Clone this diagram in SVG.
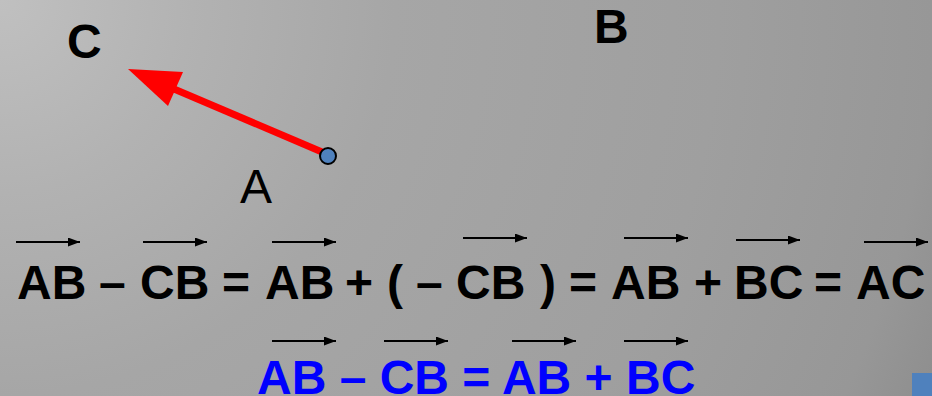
<svg xmlns="http://www.w3.org/2000/svg" width="932" height="396" viewBox="0 0 932 396">
  <defs>
    <radialGradient id="bg" gradientUnits="userSpaceOnUse" cx="0" cy="0" r="1013" fx="0" fy="0">
      <stop offset="0" stop-color="#c0c0c0"/>
      <stop offset="0.19" stop-color="#b2b2b2"/>
      <stop offset="0.39" stop-color="#a6a6a6"/>
      <stop offset="0.71" stop-color="#9f9f9f"/>
      <stop offset="0.92" stop-color="#979797"/>
      <stop offset="1" stop-color="#8e8e8e"/>
    </radialGradient>
    <marker id="vh" markerWidth="12" markerHeight="9" refX="12" refY="4.5" orient="auto" markerUnits="userSpaceOnUse">
      <path d="M0,0 L12,4.5 L0,9 Z" fill="#000"/>
    </marker>
  </defs>
  <style>
    .lbl { font-family: "Liberation Sans", Arial, sans-serif; font-size: 48px; fill: #000; }
    .b { font-weight: bold; }
    .eq { font-family: "Liberation Sans", Arial, sans-serif; font-size: 48px; font-weight: bold; }
    .vec { stroke: #000; stroke-width: 1.8; fill: none; marker-end: url(#vh); }
  </style>
  <rect x="0" y="0" width="932" height="396" fill="url(#bg)"/>

  <g id="label-C"><text class="lbl b" x="67" y="58">C</text></g>
  <g id="label-B"><text class="lbl b" x="594" y="43">B</text></g>

  <g id="connectors">
    <line x1="322" y1="152" x2="174" y2="89" stroke="#ff0000" stroke-width="7"/>
    <polygon points="128,69 183,72 168,106" fill="#ff0000"/>
  </g>

  <g id="point-A">
    <circle cx="328" cy="156" r="8" fill="#4f81bd" stroke="#000" stroke-width="2"/>
    <text class="lbl" x="240" y="203">A</text>
  </g>

  <g id="equation-1">
    <text class="eq" y="299" fill="#000"><tspan x="17">AB</tspan> <tspan x="99">–</tspan> <tspan x="140">CB</tspan> <tspan x="222">=</tspan> <tspan x="265">AB</tspan> <tspan x="345">+</tspan> <tspan x="387">(</tspan> <tspan x="416">–</tspan> <tspan x="456">CB</tspan> <tspan x="540">)</tspan> <tspan x="569">=</tspan> <tspan x="611">AB</tspan> <tspan x="694">+</tspan> <tspan x="734">BC</tspan> <tspan x="814">=</tspan> <tspan x="856">AC</tspan></text>
    <g id="vectors-1">
      <line class="vec" x1="16" y1="242" x2="80" y2="242"/>
      <line class="vec" x1="143" y1="242" x2="207" y2="242"/>
      <line class="vec" x1="272" y1="242" x2="336" y2="242"/>
      <line class="vec" x1="463" y1="238" x2="527" y2="238"/>
      <line class="vec" x1="624" y1="238" x2="688" y2="238"/>
      <line class="vec" x1="736" y1="240" x2="800" y2="240"/>
      <line class="vec" x1="864" y1="242" x2="928" y2="242"/>
    </g>
  </g>

  <g id="equation-2">
    <text class="eq" x="257" y="394" fill="#0000ff">AB – CB = AB + BC</text>
    <g id="vectors-2">
      <line class="vec" x1="272" y1="341" x2="336" y2="341"/>
      <line class="vec" x1="384" y1="341" x2="448" y2="341"/>
      <line class="vec" x1="512" y1="341" x2="576" y2="341"/>
      <line class="vec" x1="624" y1="341" x2="688" y2="341"/>
    </g>
  </g>

  <rect id="corner-square" x="912" y="373" width="20" height="23" fill="#4f81bd"/>
</svg>
